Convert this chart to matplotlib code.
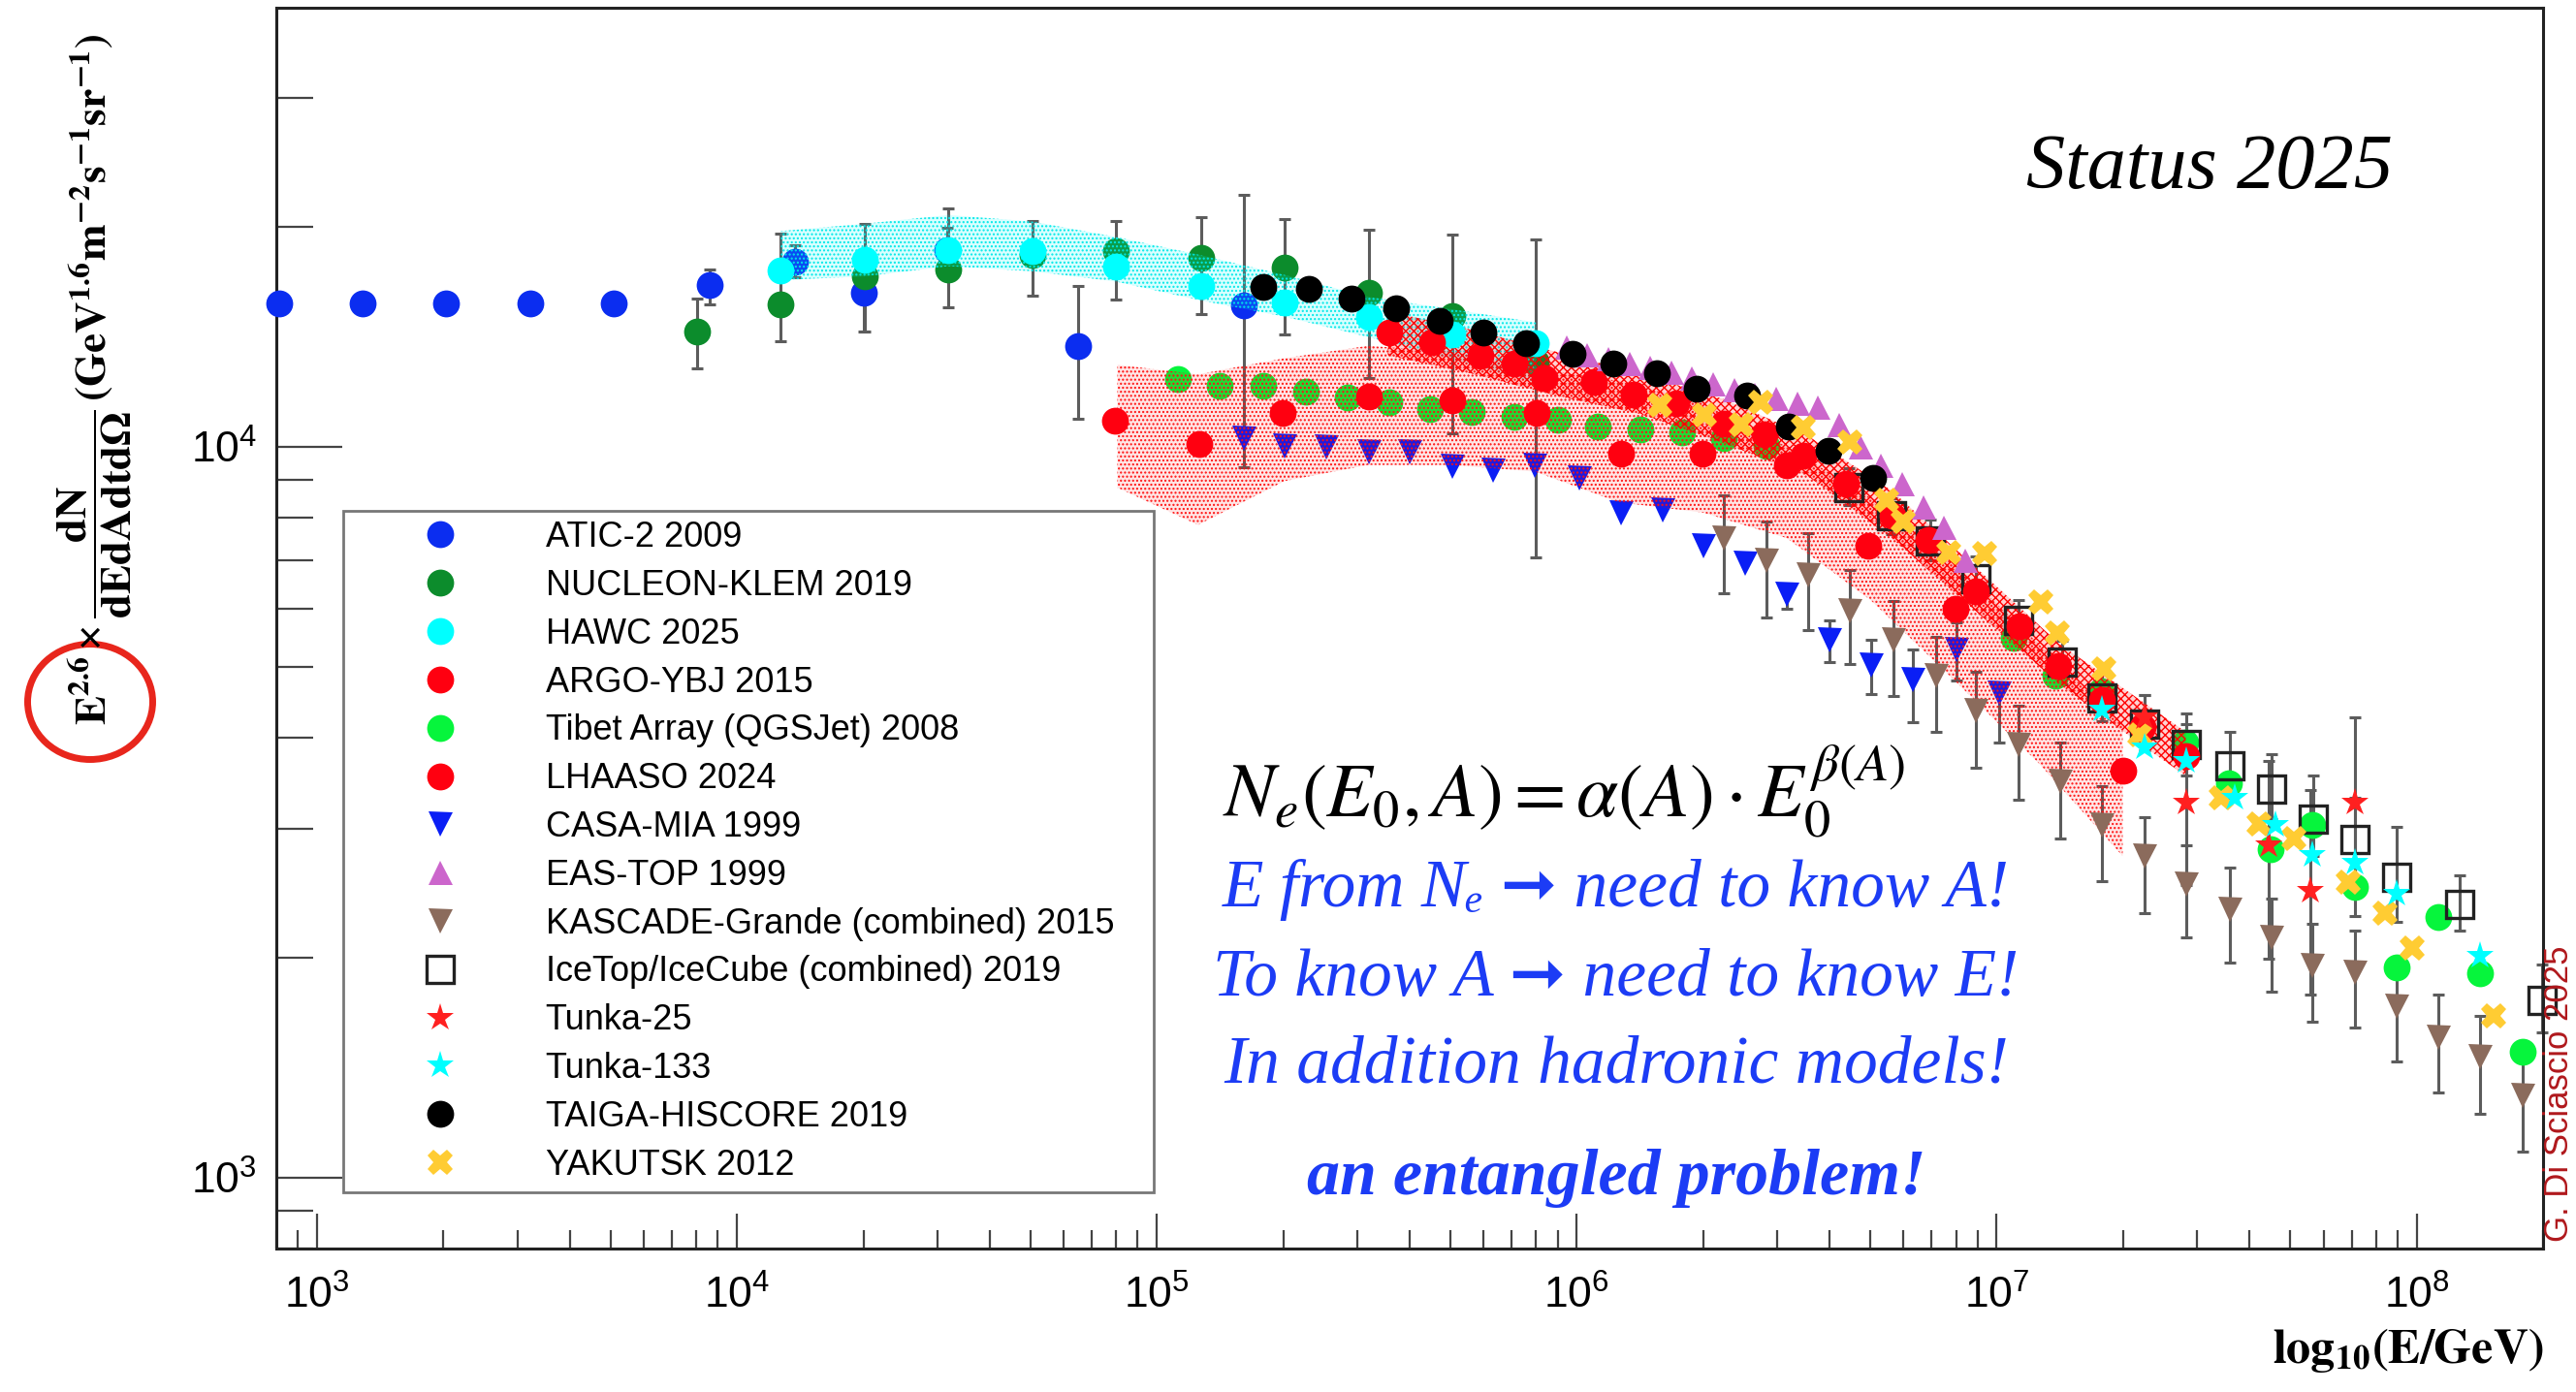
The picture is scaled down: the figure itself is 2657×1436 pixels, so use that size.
import numpy as np
import matplotlib
matplotlib.use("Agg")
import matplotlib.pyplot as plt
from matplotlib.patches import Ellipse
from matplotlib.ticker import LogLocator, NullFormatter

plt.rcParams["font.family"] = ["Liberation Sans", "DejaVu Sans"]
plt.rcParams["mathtext.fontset"] = "stix"
plt.rcParams["mathtext.default"] = "regular"
plt.rcParams["hatch.linewidth"] = 1.0

nan = np.nan

# everything below is log10(E/GeV) and log10(E^2.6 dN/dE)
atic_logE = [2.910, 3.109, 3.308, 3.507, 3.706, 3.934, 4.138, 4.302, 4.500, 4.813, 5.207]
atic_logF = [4.196, 4.196, 4.196, 4.196, 4.196, 4.221, 4.253, 4.211, 4.269, 4.138, 4.193]
atic_lo = [nan, nan, nan, nan, nan, 4.195, 4.232, 4.158, 4.240, 4.038, 3.972]
atic_hi = [nan, nan, nan, nan, nan, 4.243, 4.275, 4.250, 4.300, 4.220, 4.344]

nucleon_logE = [3.905, 4.104, 4.304, 4.504, 4.704, 4.902, 5.105, 5.304, 5.504, 5.703, 5.903]
nucleon_logF = [4.157, 4.195, 4.233, 4.242, 4.262, 4.267, 4.258, 4.245, 4.210, 4.179, 4.116]
nucleon_lo = [4.107, 4.144, 4.158, 4.191, 4.207, 4.201, 4.182, 4.153, 4.094, 4.018, 3.849]
nucleon_hi = [4.203, 4.292, 4.305, 4.326, 4.309, 4.309, 4.314, 4.312, 4.297, 4.290, 4.283]

hawc_logE = [4.104, 4.304, 4.504, 4.704, 4.902, 5.105, 5.304, 5.504, 5.703, 5.903]
hawc_logF = [4.241, 4.256, 4.269, 4.267, 4.247, 4.220, 4.198, 4.177, 4.153, 4.141]
hawc_band_hi = [4.295, 4.305, 4.317, 4.308, 4.287, 4.262, 4.235, 4.205, 4.188, 4.170]
hawc_band_lo = [4.228, 4.233, 4.247, 4.240, 4.226, 4.200, 4.178, 4.150, 4.120, 4.087]

argo_logE = [4.900, 5.100, 5.299, 5.504, 5.704, 5.905, 6.105, 6.300, 6.501, 6.693, 6.901, 7.301]
argo_logF = [4.035, 4.004, 4.046, 4.069, 4.063, 4.046, 3.990, 3.990, 3.975, 3.864, 3.778, 3.557]
argo_band_logE = [4.906, 5.098, 5.304, 5.503, 5.701, 5.900, 6.100, 6.300, 6.500, 6.700, 6.900, 7.100, 7.300]
argo_band_hi = [4.112, 4.099, 4.121, 4.138, 4.130, 4.107, 4.090, 4.060, 4.000, 3.930, 3.840, 3.730, 3.620]
argo_band_lo = [3.944, 3.893, 3.953, 3.975, 3.975, 3.966, 3.924, 3.910, 3.875, 3.790, 3.680, 3.567, 3.440]

tibet_logE = [5.050, 5.150, 5.254, 5.354, 5.454, 5.554, 5.650, 5.750, 5.851, 5.955,
              6.051, 6.151, 6.251, 6.351, 6.451, 7.040, 7.140, 7.248, 7.448, 7.552,
              7.652, 7.752, 7.852, 7.952, 8.052, 8.152, 8.252]
tibet_logF = [4.092, 4.083, 4.083, 4.076, 4.068, 4.061, 4.052, 4.048, 4.041, 4.037,
              4.028, 4.024, 4.020, 4.012, 4.001, 3.738, 3.687, 3.665, 3.595, 3.539,
              3.449, 3.482, 3.398, 3.287, 3.356, 3.279, 3.172]

lhaaso_logE = [5.554, 5.654, 5.770, 5.851, 5.924, 6.040, 6.136, 6.236, 6.351, 6.447,
               6.540, 6.640, 6.751, 6.838, 6.950, 7.055, 7.147, 7.251, 7.348, 7.452]
lhaaso_logF = [4.156, 4.143, 4.125, 4.114, 4.094, 4.088, 4.072, 4.059, 4.032, 4.017,
               3.988, 3.950, 3.906, 3.873, 3.802, 3.754, 3.700, 3.654, 3.617, 3.577]
lhaaso_band_logE = [5.55, 5.75, 5.95, 6.15, 6.35, 6.55, 6.75, 6.95, 7.15, 7.35, 7.45]
lhaaso_band_hi = [4.185, 4.160, 4.130, 4.100, 4.065, 4.015, 3.940, 3.835, 3.730, 3.650, 3.610]
lhaaso_band_lo = [4.125, 4.100, 4.070, 4.045, 4.005, 3.960, 3.875, 3.775, 3.675, 3.590, 3.550]

casa_logE = [5.208, 5.304, 5.404, 5.504, 5.603, 5.703, 5.801, 5.901, 6.005, 6.105,
             6.205, 6.301, 6.401, 6.501, 6.601, 6.701, 6.801, 6.905, 7.005]
casa_logF = [4.012, 4.001, 4.000, 3.993, 3.993, 3.973, 3.968, 3.975, 3.957, 3.909,
             3.913, 3.864, 3.840, 3.798, 3.736, 3.701, 3.681, 3.723, 3.663]
casa_lo = [nan, nan, nan, nan, nan, nan, nan, nan, nan, nan,
           nan, nan, nan, 3.778, 3.705, 3.661, 3.623, 3.680, 3.595]
casa_hi = [nan, nan, nan, nan, nan, nan, nan, nan, nan, nan,
           nan, nan, nan, 3.813, 3.763, 3.736, 3.723, 3.760, 3.674]

eastop_logE = [5.975, 6.025, 6.075, 6.125, 6.175, 6.225, 6.275, 6.325, 6.375, 6.425,
               6.475, 6.525, 6.575, 6.625, 6.675, 6.725, 6.775, 6.825, 6.875, 6.925]
eastop_logF = [4.136, 4.126, 4.120, 4.114, 4.108, 4.102, 4.094, 4.086, 4.078, 4.072,
               4.066, 4.060, 4.054, 4.030, 4.000, 3.975, 3.950, 3.918, 3.890, 3.845]

kascade_logE = [6.351, 6.451, 6.551, 6.651, 6.755, 6.855, 6.951, 7.051, 7.151, 7.251,
                7.351, 7.452, 7.555, 7.654, 7.752, 7.852, 7.952, 8.052, 8.150, 8.252]
kascade_logF = [3.875, 3.844, 3.825, 3.776, 3.736, 3.687, 3.639, 3.592, 3.542, 3.482,
                3.440, 3.402, 3.367, 3.329, 3.290, 3.281, 3.234, 3.192, 3.166, 3.113]
kascade_lo = [3.800, 3.767, 3.749, 3.703, 3.659, 3.610, 3.561, 3.517, 3.464, 3.405,
              3.362, 3.329, 3.294, 3.254, 3.214, 3.206, 3.159, 3.117, 3.088, 3.035]
kascade_hi = [3.933, 3.897, 3.882, 3.831, 3.789, 3.740, 3.692, 3.646, 3.595, 3.535,
              3.493, 3.455, 3.424, 3.382, 3.347, 3.338, 3.292, 3.250, 3.221, 3.168]

icetop_logE = [6.647, 6.750, 6.843, 6.951, 7.051, 7.155, 7.251, 7.352, 7.452, 7.555,
               7.654, 7.754, 7.852, 7.952, 8.102, 8.298]
icetop_logF = [3.944, 3.905, 3.871, 3.820, 3.763, 3.705, 3.656, 3.621, 3.592, 3.564,
               3.531, 3.491, 3.462, 3.411, 3.374, 3.243]
icetop_lo = [3.920, 3.880, 3.845, 3.795, 3.735, 3.675, 3.625, 3.585, 3.550, 3.520,
             3.490, 3.440, 3.410, 3.350, 3.338, 3.199]
icetop_hi = [3.970, 3.930, 3.900, 3.850, 3.790, 3.735, 3.690, 3.660, 3.635, 3.610,
             3.580, 3.550, 3.520, 3.480, 3.413, 3.292]

tunka25_logE = [7.352, 7.452, 7.648, 7.748, 7.852]
tunka25_logF = [3.630, 3.513, 3.455, 3.393, 3.513]
tunka25_lo = [3.600, 3.400, 3.300, 3.250, 3.358]
tunka25_hi = [3.660, 3.621, 3.570, 3.530, 3.630]

tunka133_logE = [7.251, 7.352, 7.452, 7.567, 7.663, 7.752, 7.852, 7.952, 8.152]
tunka133_logF = [3.641, 3.588, 3.570, 3.520, 3.482, 3.442, 3.431, 3.389, 3.304]

taiga_logE = [5.253, 5.363, 5.463, 5.570, 5.674, 5.778, 5.878, 5.989, 6.086, 6.190,
              6.286, 6.405, 6.504, 6.600, 6.706]
taiga_logF = [4.218, 4.216, 4.203, 4.189, 4.172, 4.156, 4.141, 4.127, 4.114, 4.101,
              4.079, 4.070, 4.028, 3.995, 3.957]

yakutsk_logE = [6.197, 6.305, 6.391, 6.437, 6.540, 6.651, 6.739, 6.778, 6.886, 6.971,
                7.105, 7.144, 7.255, 7.340, 7.535, 7.625, 7.708, 7.837, 7.925, 7.990, 8.183]
yakutsk_logF = [4.057, 4.043, 4.030, 4.061, 4.026, 4.006, 3.927, 3.897, 3.855, 3.854,
                3.787, 3.745, 3.696, 3.606, 3.520, 3.484, 3.464, 3.404, 3.362, 3.314, 3.221]

ERR = "#5c5c5c"


def lin(a):
    return 10.0 ** np.asarray(a, dtype=float)


fig = plt.figure(figsize=(26.57, 14.36), dpi=100)
fig.patch.set_facecolor("white")
ax = fig.add_axes([0.1071, 0.1031, 0.8801, 0.8910])
ax.set_xscale("log")
ax.set_yscale("log")
ax.set_xlim(798, 2.0e8)
ax.set_ylim(800, 3.98e4)


def bars(logE, lo, hi):
    x = lin(logE)
    ylo, yhi = lin(lo), lin(hi)
    ax.vlines(x, ylo, yhi, colors=ERR, linewidth=2.2, zorder=2)
    ax.plot(np.r_[x, x], np.r_[ylo, yhi], ls="none", marker="_", ms=8,
            mew=2.2, color=ERR, zorder=2, clip_on=False)


def series(logE, logF, label, z, **kw):
    (h,) = ax.plot(lin(logE), lin(logF), ls="none", label=label,
                   clip_on=False, zorder=z, **kw)
    return h


def band(logE, lo, hi, color, tint, hatch, z=4):
    ax.fill_between(lin(logE), lin(lo), lin(hi), facecolor=tint,
                    edgecolor=color, hatch=hatch, linewidth=0, zorder=z)


dot = dict(marker="o", ms=20, mew=0)

bars(atic_logE, atic_lo, atic_hi)
bars(nucleon_logE, nucleon_lo, nucleon_hi)
bars(casa_logE, casa_lo, casa_hi)
bars(kascade_logE, kascade_lo, kascade_hi)
bars(icetop_logE, icetop_lo, icetop_hi)
bars(tunka25_logE, tunka25_lo, tunka25_hi)

h_atic = series(atic_logE, atic_logF, "ATIC-2 2009", 3, color="#0b2df0", **dot)
h_nucl = series(nucleon_logE, nucleon_logF, "NUCLEON-KLEM 2019", 3, color="#0c8c2c", **dot)
h_tibet = series(tibet_logE, tibet_logF, "Tibet Array (QGSJet) 2008", 3, color="#06f53c", **dot)
h_casa = series(casa_logE, casa_logF, "CASA-MIA 1999", 3, color="#0a1ef5",
                marker="v", ms=18, mew=0)

# systematic bands
band(hawc_logE, hawc_band_lo, hawc_band_hi,
     "#00e8e8", (0.0, 1.0, 1.0, 0.15), "....")
band(argo_band_logE, argo_band_lo, argo_band_hi,
     "#ff1010", (1.0, 0.0, 0.0, 0.10), "....")
band(lhaaso_band_logE, lhaaso_band_lo, lhaaso_band_hi,
     "#ff0000", (1.0, 0.0, 0.0, 0.18), "xxxx")

h_hawc = series(hawc_logE, hawc_logF, "HAWC 2025", 5, color="#00ffff", **dot)
h_ice = series(icetop_logE, icetop_logF, "IceTop/IceCube (combined) 2019", 5,
               marker="s", ms=20, mfc="none", mec="#222222", mew=2.4)
h_argo = series(argo_logE, argo_logF, "ARGO-YBJ 2015", 5, color="#ff0010", **dot)
h_lhaaso = series(lhaaso_logE, lhaaso_logF, "LHAASO 2024", 5, color="#ff0010", **dot)
h_eas = series(eastop_logE, eastop_logF, "EAS-TOP 1999", 5, color="#cc66cc",
               marker="^", ms=18, mew=0)
h_kg = series(kascade_logE, kascade_logF, "KASCADE-Grande (combined) 2015", 5,
              color="#8b6b5c", marker="v", ms=18, mew=0)
h_taiga = series(taiga_logE, taiga_logF, "TAIGA-HISCORE 2019", 6, color="black", **dot)
h_yak = series(yakutsk_logE, yakutsk_logF, "YAKUTSK 2012", 7, color="#ffcc33",
               marker="X", ms=19, mew=0)
h_t25 = series(tunka25_logE, tunka25_logF, "Tunka-25", 7, color="#ff2020",
               marker="*", ms=21, mew=0)
h_t133 = series(tunka133_logE, tunka133_logF, "Tunka-133", 7, color="#00ffff",
                marker="*", ms=21, mew=0)

# axes frame and ticks in ROOT style
for s in ax.spines.values():
    s.set_linewidth(2.2)
    s.set_color("#222222")
ax.xaxis.set_major_locator(LogLocator(base=10, numticks=20))
ax.xaxis.set_minor_locator(LogLocator(base=10, subs=np.arange(2, 10), numticks=100))
ax.yaxis.set_major_locator(LogLocator(base=10, numticks=20))
ax.yaxis.set_minor_locator(LogLocator(base=10, subs=np.arange(2, 10), numticks=100))
ax.xaxis.set_minor_formatter(NullFormatter())
ax.yaxis.set_minor_formatter(NullFormatter())
ax.tick_params(which="both", direction="in", top=False, right=False,
               color="#444444", width=1.6, labelsize=32)
ax.tick_params(axis="x", which="major", length=26, pad=20)
ax.tick_params(axis="x", which="minor", length=14)
ax.tick_params(axis="y", which="major", length=49, pad=14)
ax.tick_params(axis="y", which="minor", length=27)

handles = [h_atic, h_nucl, h_hawc, h_argo, h_tibet, h_lhaaso, h_casa, h_eas,
           h_kg, h_ice, h_t25, h_t133, h_taiga, h_yak]
leg = ax.legend(handles=handles, loc="upper left",
                bbox_to_anchor=(0.1332, 0.1483, 0.3146, 0.4847),
                bbox_transform=fig.transFigure, mode="expand",
                fontsize=26, numpoints=1, frameon=True, fancybox=False,
                borderpad=0.28, labelspacing=0.41, handlelength=5.0,
                handletextpad=0.5, borderaxespad=0)
leg.get_frame().set_edgecolor("#555555")
leg.get_frame().set_linewidth(2.0)
leg.set_zorder(20)

fig.text(0.8577, 0.8785, "Status 2025", fontsize=58, style="italic",
         family=["Liberation Serif", "DejaVu Serif"], ha="center", va="center")

fig.text(0.6073, 0.4128,
         r"$\mathit{N_e(E_0, A) = \alpha(A)\cdot E_0^{\beta(A)}}$",
         fontsize=56, ha="center", va="baseline")

BLUE = "#1c3cf5"
serif = ["Liberation Serif", "DejaVu Serif", "DejaVu Sans"]
fig.text(0.6274, 0.3489, "E from N\u2091 \u279e need to know A!", color=BLUE,
         fontsize=50, style="italic", family=serif, ha="center", va="baseline")
fig.text(0.6274, 0.2850, "To know A \u279e need to know E!", color=BLUE,
         fontsize=50, style="italic", family=serif, ha="center", va="baseline")
fig.text(0.6274, 0.2224, "In addition hadronic models!", color=BLUE,
         fontsize=50, style="italic", family=serif, ha="center", va="baseline")
fig.text(0.6274, 0.1423, "an entangled problem!", color=BLUE, fontsize=49,
         style="italic", weight="bold", family=serif, ha="center", va="baseline")

ylab = (r"$\mathbf{E}^{\mathbf{2.6}}\times\dfrac{\mathbf{dN}}{\mathbf{dEdAdtd\Omega}}"
        r"\,\mathbf{(GeV^{1.6}m^{-2}s^{-1}sr^{-1})}$")
fig.text(0.0369, 0.7274, ylab, rotation=90, fontsize=32.5, ha="center", va="center")
fig.add_artist(Ellipse((93 / 2657, 1 - 724 / 1436), 129 / 2657, 119 / 1436,
                       transform=fig.transFigure, fill=False,
                       edgecolor="#e8261c", linewidth=5))

fig.text(0.9872, 0.030, r"$\mathbf{log_{10}(E/GeV)}$", fontsize=36,
         ha="right", va="center")

fig.text(0.9936, 0.2142, "G. Di Sciascio 2025", rotation=90, color="#b0181c",
         fontsize=25, ha="center", va="center")

fig.savefig("out.png", dpi=100)
